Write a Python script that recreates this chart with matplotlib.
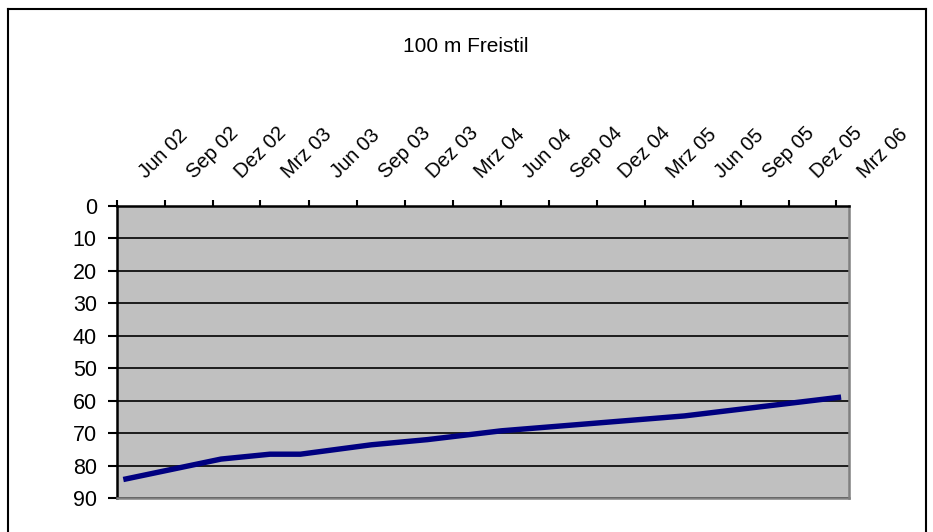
import matplotlib.pyplot as plt
import matplotlib.dates as mdates
from matplotlib.lines import Line2D
import pandas as pd

plt.rcParams['font.family'] = ['Liberation Sans', 'DejaVu Sans']

# Zeiten 100 m Freistil (Sekunden)
dates = ['2002-06-13', '2002-12-16', '2003-03-19', '2003-05-16', '2003-09-28',
         '2004-01-13', '2004-06-01', '2005-05-16', '2006-03-10']
times = [84.3, 78.0, 76.5, 76.5, 73.6, 72.0, 69.3, 64.7, 58.9]

tick_dates = pd.date_range('2002-06-01', '2006-03-01', freq='3MS')
month_names = {3: 'Mrz', 6: 'Jun', 9: 'Sep', 12: 'Dez'}
tick_labels = [f"{month_names[d.month]} {d.strftime('%y')}" for d in tick_dates]

W, H = 933, 532
fig = plt.figure(figsize=(W / 100, H / 100), dpi=100)
ax = fig.add_axes([117 / W, (H - 498) / H, (849 - 117) / W, (498 - 206) / H])
ax.set_facecolor('#C0C0C0')

x = pd.to_datetime(dates)
ax.plot(x, times, color='#000080', lw=3.9, solid_capstyle='butt', zorder=3)

ax.set_ylim(90, 0)
ax.set_yticks(range(0, 91, 10))
ax.yaxis.grid(True, color='black', lw=1.2)
ax.set_axisbelow(True)

ax.set_xlim(pd.Timestamp('2002-06-01'), pd.Timestamp('2006-03-25'))
ax.xaxis.tick_top()
ax.set_xticks(tick_dates)
ax.set_xticklabels([])
for d, lab in zip(tick_dates, tick_labels):
    ax.annotate(lab, xy=(mdates.date2num(d), 1.0), xycoords=('data', 'axes fraction'),
                xytext=(29, 27), textcoords='offset pixels', rotation=45,
                ha='left', va='baseline', rotation_mode='anchor', fontsize=14.5)

ax.tick_params(axis='x', direction='out', length=4.5, width=1.5, color='black')
ax.tick_params(axis='y', direction='out', length=6.5, width=1.5, color='black',
               labelsize=15.5, pad=8)

for side in ['left', 'top']:
    ax.spines[side].set_color('black')
    ax.spines[side].set_linewidth(1.8)
for side in ['right', 'bottom']:
    ax.spines[side].set_color('#808080')
    ax.spines[side].set_linewidth(1.8)

fig.text(466 / W, 1 - 46 / H, '100 m Freistil', ha='center', va='center', fontsize=15)

# Rahmen um das Diagramm
fx = lambda px: px / W
fy = lambda py: 1 - py / H
for xs, ys in [((8, 8), (9, 540)), ((8, 926), (9, 9)), ((926, 926), (9, 540))]:
    fig.add_artist(Line2D([fx(v) for v in xs], [fy(v) for v in ys], color='black', lw=1.5))

fig.savefig('out.png', dpi=100)
